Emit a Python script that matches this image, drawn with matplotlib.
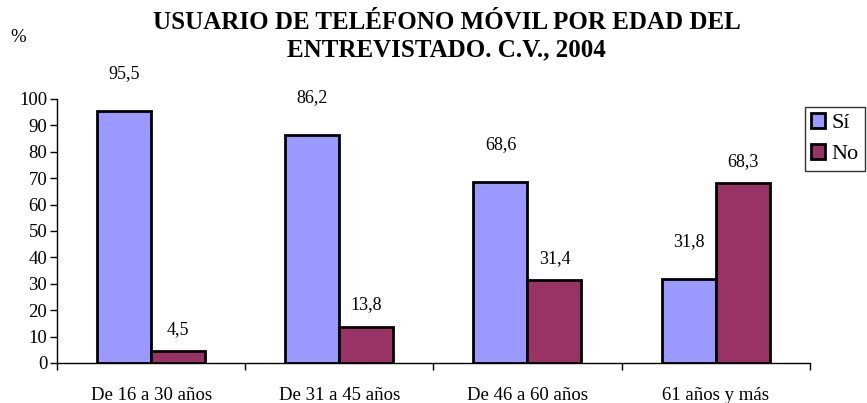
import numpy as np
import matplotlib.pyplot as plt

categories = ["De 16 a 30 años", "De 31 a 45 años", "De 46 a 60 años", "61 años y más"]
si = [95.5, 86.2, 68.6, 31.8]
no = [4.5, 13.8, 31.4, 68.3]
series_names = ["Sí", "No"]
title = "USUARIO DE TELÉFONO MÓVIL POR EDAD DEL\nENTREVISTADO. C.V., 2004"


def fmt(v):
    return f"{v:.1f}".replace(".", ",")


def main():
    plt.rcParams["font.family"] = ["Liberation Serif", "DejaVu Serif"]
    fig = plt.figure(figsize=(8.67, 4.03), dpi=100)
    ax = fig.add_axes([0.0657, 0.0993, 0.8683, 0.6551])

    x = np.arange(len(categories))
    w = 0.287
    b1 = ax.bar(x - w / 2, si, w, color="#9999FF", edgecolor="black", linewidth=2, label=series_names[0])
    b2 = ax.bar(x + w / 2, no, w, color="#993366", edgecolor="black", linewidth=2, label=series_names[1])

    for rect, v in zip(b1, si):
        ax.annotate(fmt(v), (rect.get_x() + rect.get_width() / 2, v),
                    xytext=(0, 29), textcoords="offset pixels",
                    ha="center", va="bottom", fontsize=13)
    for rect, v in zip(b2, no):
        ax.annotate(fmt(v), (rect.get_x() + rect.get_width() / 2, v),
                    xytext=(0, 13), textcoords="offset pixels",
                    ha="center", va="bottom", fontsize=13)

    ax.set_xlim(-0.5, len(categories) - 0.5)
    ax.set_ylim(0, 100)
    ax.set_yticks(np.arange(0, 101, 10))
    ax.set_xticks(x)
    ax.set_xticklabels(categories, fontsize=13.5)
    ax.set_xticks(np.arange(-0.5, len(categories), 1), minor=True)
    ax.tick_params(axis="x", which="major", length=0, pad=17)
    ax.tick_params(axis="x", which="minor", length=5, direction="out", width=1)
    ax.tick_params(axis="y", length=5, direction="out", width=1, labelsize=13.5, pad=2)
    for s in ["top", "right"]:
        ax.spines[s].set_visible(False)
    for s in ["left", "bottom"]:
        ax.spines[s].set_linewidth(1)

    fig.text(0.515, 0.972, title, ha="center", va="top", fontsize=18,
             fontweight="bold", linespacing=1.2)
    fig.text(0.012, 0.895, "%", fontsize=13.5)

    leg = fig.legend(loc="upper left", bbox_to_anchor=(0.928, 0.735),
                     fontsize=16, frameon=True, fancybox=False,
                     handlelength=0.6, handleheight=0.6, handletextpad=0.3,
                     borderpad=0.3, borderaxespad=0, labelspacing=0.5)
    leg.get_frame().set_edgecolor("black")
    leg.get_frame().set_linewidth(1)

    fig.savefig("out.png", dpi=100)


if __name__ == "__main__":
    main()
